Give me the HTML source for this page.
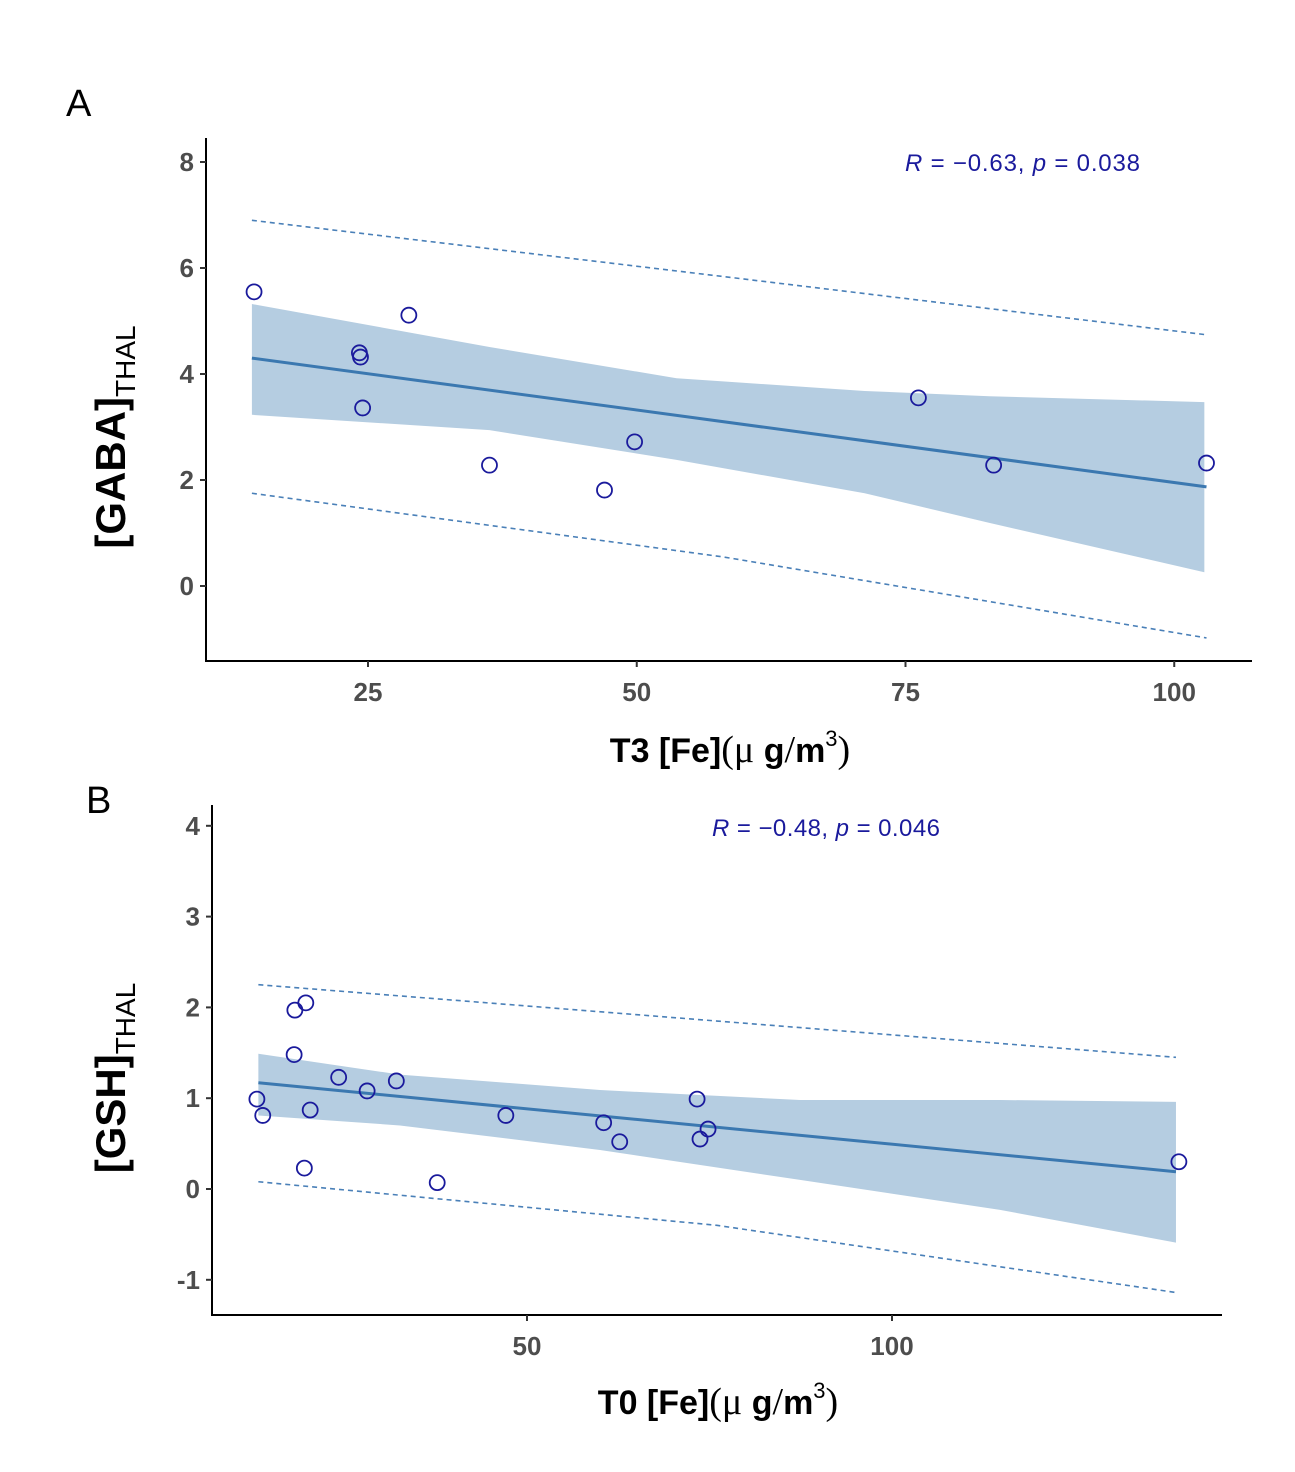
<!DOCTYPE html>
<html><head><meta charset="utf-8"><style>
body{margin:0;background:#fff}
svg{display:block;font-family:"Liberation Sans",sans-serif}
</style></head><body>
<svg id="s" width="1295" height="1472" viewBox="0 0 1295 1472"></svg>
<script>
// ---- Panel A data ----
const aX=[14.4,28.8,24.2,24.3,24.5,36.3,47.0,49.8,76.2,83.2,103.0];
const aY=[5.55,5.11,4.40,4.32,3.36,2.28,1.81,2.72,3.55,2.28,2.32];
const aFitX=[14.2,103];
const aFitY=[4.30,1.87];
const aBandX=[14.2,36.3,53.7,71.2,82.8,102.8];
const aBandU=[5.32,4.51,3.92,3.68,3.58,3.47];
const aBandL=[3.23,2.94,2.38,1.75,1.19,0.26];
const aPredX=[14.2,58,103];
const aPredU=[6.90,5.84,4.74];
const aPredL=[1.75,0.55,-0.98];
const aXTicks=[25,50,75,100];
const aYTicks=[0,2,4,6,8];
// ---- Panel B data ----
const bX=[13.0,13.8,18.2,19.7,18.1,20.3,19.5,24.2,28.1,32.1,37.7,47.1,60.5,62.7,73.3,73.7,74.8,139.3];
const bY=[0.99,0.81,1.97,2.05,1.48,0.87,0.23,1.23,1.08,1.19,0.07,0.81,0.73,0.52,0.99,0.55,0.66,0.30];
const bFitX=[13.2,138.9];
const bFitY=[1.17,0.19];
const bBandX=[13.2,32.6,60,87.4,114.8,138.9];
const bBandU=[1.49,1.26,1.09,0.98,0.98,0.96];
const bBandL=[0.81,0.70,0.43,0.10,-0.23,-0.59];
const bPredX=[13.2,76,138.9];
const bPredU=[2.25,1.85,1.45];
const bPredL=[0.08,-0.40,-1.14];
const bXTicks=[50,100];
const bYTicks=[-1,0,1,2,3,4];

const S=document.getElementById('s');const NS='http://www.w3.org/2000/svg';
function el(t,a,p){const e=document.createElementNS(NS,t);for(const k in a)e.setAttribute(k,a[k]);(p||S).appendChild(e);return e;}

function panel(o){
 const g=el('g',{});
 
 
 const sx=v=>o.x0+(v-o.xa)*o.xk, sy=v=>o.y0-(v-o.ya)*o.yk;
 let d='';o.bx.forEach((v,i)=>d+=(i?'L':'M')+sx(v)+','+sy(o.bu[i]));
 for(let i=o.bx.length-1;i>=0;i--)d+='L'+sx(o.bx[i])+','+sy(o.bl[i]);
 const band=el('path',{d:d+'Z',fill:'#b5cde1'},g);
 
 
 [o.pu,o.pl].forEach((arr,j)=>{
  const pl=el('polyline',{points:o.px.map((v,i)=>sx(v)+','+sy(arr[i])).join(' '),fill:'none',stroke:'#4a80b8','stroke-width':1.6,'stroke-dasharray':'5,4'},g);
  
  
 });
 const ln=el('line',{x1:sx(o.fx[0]),y1:sy(o.fy[0]),x2:sx(o.fx[1]),y2:sy(o.fy[1]),stroke:'#3b78b0','stroke-width':3},g);
 
 
 o.dx.forEach((v,i)=>{
  const c=el('circle',{cx:sx(v),cy:sy(o.dy[i]),r:7.5,fill:'none',stroke:'#1a1a9c','stroke-width':1.8},g);
  
  
 });
 const ax=el('path',{d:`M${o.L},${o.T}V${o.B}H${o.R}`,fill:'none',stroke:'#000','stroke-width':2},g);
 
 
 o.yt.forEach(v=>{
  el('line',{x1:o.L-6,x2:o.L,y1:sy(v),y2:sy(v),stroke:'#333','stroke-width':2},g);
  const t=el('text',{x:o.L-12,y:sy(v)+9,'text-anchor':'end','font-size':26,'font-weight':'bold',fill:'#4d4d4d'},g);
  t.textContent=v;
  
  
 });
 o.xt.forEach(v=>{
  el('line',{x1:sx(v),x2:sx(v),y1:o.B,y2:o.B+6,stroke:'#333','stroke-width':2},g);
  const t=el('text',{x:sx(v),y:o.B+40,'text-anchor':'middle','font-size':26,'font-weight':'bold',fill:'#4d4d4d'},g);
  t.textContent=v;
  
  
 });
}
panel({name:'panel-a',x0:368,xa:25,xk:10.75,y0:586,ya:0,yk:53,L:206,T:138,B:661,R:1252,
 dx:aX,dy:aY,fx:aFitX,fy:aFitY,bx:aBandX,bu:aBandU,bl:aBandL,px:aPredX,pu:aPredU,pl:aPredL,xt:aXTicks,yt:aYTicks});
panel({name:'panel-b',x0:527,xa:50,xk:7.3,y0:1189,ya:0,yk:90.8,L:212,T:805,B:1315,R:1222,
 dx:bX,dy:bY,fx:bFitX,fy:bFitY,bx:bBandX,bu:bBandU,bl:bBandL,px:bPredX,pu:bPredU,pl:bPredL,xt:bXTicks,yt:bYTicks});
</script>
<svg style="position:absolute;left:0;top:0" width="1295" height="1472">
 <text x="66" y="116" font-size="38" font-family="Liberation Sans">A</text>
 <text x="86" y="813" font-size="38" font-family="Liberation Sans">B</text>
 <text x="905" y="171" font-size="24" fill="#1a1a9c" font-family="Liberation Sans" textLength="235"><tspan font-style="italic">R</tspan> = −0.63, <tspan font-style="italic">p</tspan> = 0.038</text>
 <text x="712" y="836" font-size="24" fill="#1a1a9c" font-family="Liberation Sans" textLength="228"><tspan font-style="italic">R</tspan> = −0.48, <tspan font-style="italic">p</tspan> = 0.046</text>
 <text transform="translate(125,437) rotate(-90)" text-anchor="middle" font-size="42" font-weight="bold" font-family="Liberation Sans">[GABA]<tspan font-size="28" font-weight="normal" dy="10">THAL</tspan></text>
 <text transform="translate(125,1078) rotate(-90)" text-anchor="middle" font-size="42" font-weight="bold" font-family="Liberation Sans">[GSH]<tspan font-size="28" font-weight="normal" dy="10">THAL</tspan></text>
 <text x="730" y="762" text-anchor="middle" font-size="34" font-weight="bold" font-family="Liberation Sans">T3 [Fe]<tspan font-weight="normal" font-family="Liberation Serif" font-size="38">(μ</tspan> g<tspan font-weight="normal" font-family="Liberation Serif" font-size="38">/</tspan>m<tspan font-size="22" dy="-16" font-weight="normal">3</tspan><tspan dy="16" font-weight="normal" font-family="Liberation Serif" font-size="38">)</tspan></text>
 <text x="718" y="1414" text-anchor="middle" font-size="34" font-weight="bold" font-family="Liberation Sans">T0 [Fe]<tspan font-weight="normal" font-family="Liberation Serif" font-size="38">(μ</tspan> g<tspan font-weight="normal" font-family="Liberation Serif" font-size="38">/</tspan>m<tspan font-size="22" dy="-16" font-weight="normal">3</tspan><tspan dy="16" font-weight="normal" font-family="Liberation Serif" font-size="38">)</tspan></text>
</svg>
</body></html>
